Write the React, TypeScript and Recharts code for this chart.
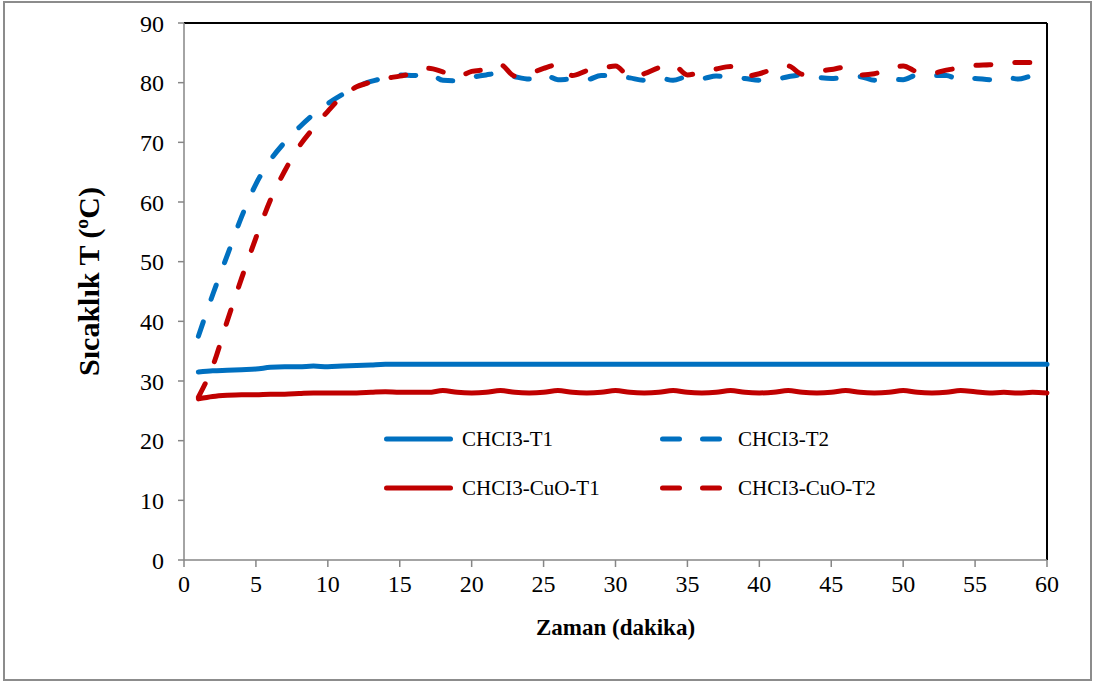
import React from 'react';
import { LineChart, Line, XAxis, YAxis, ReferenceLine } from 'recharts';

const minutes = [
  1, 2, 3, 4, 5, 6, 7, 8, 9, 10, 11, 12, 13, 14, 15, 16, 17, 18, 19, 20,
  21, 22, 23, 24, 25, 26, 27, 28, 29, 30, 31, 32, 33, 34, 35, 36, 37, 38, 39, 40,
  41, 42, 43, 44, 45, 46, 47, 48, 49, 50, 51, 52, 53, 54, 55, 56, 57, 58, 59, 60,
];

const chcl3T1 = [
  31.5, 31.7, 31.8, 31.9, 32.0, 32.3, 32.4, 32.4, 32.5, 32.4, 32.5, 32.6, 32.7, 32.8, 32.8, 32.8, 32.8, 32.8, 32.8, 32.8,
  32.8, 32.8, 32.8, 32.8, 32.8, 32.8, 32.8, 32.8, 32.8, 32.8, 32.8, 32.8, 32.8, 32.8, 32.8, 32.8, 32.8, 32.8, 32.8, 32.8,
  32.8, 32.8, 32.8, 32.8, 32.8, 32.8, 32.8, 32.8, 32.8, 32.8, 32.8, 32.8, 32.8, 32.8, 32.8, 32.8, 32.8, 32.8, 32.8, 32.8,
];

const chcl3T2 = [
  37.5, 44.5, 51.0, 57.5, 63.0, 67.0, 70.0, 72.5, 74.7, 76.5, 78.0, 79.3, 80.2, 80.8, 81.3, 81.2, 81.6, 80.4, 80.3, 80.9,
  81.3, 81.6, 81.0, 80.6, 81.4, 80.5, 80.6, 80.5, 81.2, 81.2, 80.8, 80.4, 80.8, 80.4, 81.0, 80.7, 81.1, 80.9, 80.7, 80.4,
  80.5, 81.0, 81.3, 80.9, 80.7, 80.9, 81.0, 80.4, 80.6, 80.5, 81.3, 81.2, 81.2, 80.4, 80.7, 80.5, 81.0, 80.6, 81.1, 80.9,
];

const cuoT1 = [
  27.0, 27.4, 27.6, 27.7, 27.7, 27.8, 27.8, 27.9, 28.0, 28.0, 28.0, 28.0, 28.1, 28.2, 28.1, 28.1, 28.1, 28.4, 28.1, 28.0,
  28.1, 28.4, 28.1, 28.0, 28.1, 28.4, 28.1, 28.0, 28.1, 28.4, 28.1, 28.0, 28.1, 28.4, 28.1, 28.0, 28.1, 28.4, 28.1, 28.0,
  28.1, 28.4, 28.1, 28.0, 28.1, 28.4, 28.1, 28.0, 28.1, 28.4, 28.1, 28.0, 28.1, 28.4, 28.2, 28.0, 28.1, 28.0, 28.1, 28.0,
];

const cuoT2 = [
  27.3, 32.5, 40.0, 47.2, 54.0, 60.3, 65.2, 69.3, 72.4, 75.2, 77.7, 79.3, 80.1, 80.7, 81.1, 81.6, 82.4, 81.8, 81.0, 81.9,
  82.2, 83.0, 81.1, 81.5, 82.4, 83.0, 81.2, 82.0, 82.4, 82.8, 81.0, 81.5, 82.5, 83.0, 81.3, 81.8, 82.3, 82.7, 81.1, 81.5,
  82.3, 82.8, 81.4, 81.9, 82.2, 82.6, 81.3, 81.5, 82.3, 82.8, 81.8, 81.6, 82.1, 82.5, 82.9, 83.0, 83.2, 83.4, 83.4, 83.2,
];

const xTicks = [0, 5, 10, 15, 20, 25, 30, 35, 40, 45, 50, 55, 60];
const yTicks = [0, 10, 20, 30, 40, 50, 60, 70, 80, 90];

const data = minutes.map((m, i) => ({
  minute: m,
  t1: chcl3T1[i],
  t2: chcl3T2[i],
  cuoT1: cuoT1[i],
  cuoT2: cuoT2[i],
}));

const BLUE = '#0070C0';
const RED = '#C00000';
const AXIS = '#868686';
const FONT = '"Liberation Serif", "Times New Roman", serif';

// legend order follows the reference: two columns, solid left, dashed right
const legendItems = [
  { name: 'CHCI3-T1', color: BLUE, dashed: false },
  { name: 'CHCI3-T2', color: BLUE, dashed: true },
  { name: 'CHCI3-CuO-T1', color: RED, dashed: false },
  { name: 'CHCI3-CuO-T2', color: RED, dashed: true },
];

// drawn outside the chart so recharts doesn't shrink the plot for it
const ChartLegend = () => (
  <div
    style={{
      position: 'absolute',
      left: 384,
      top: 425,
      display: 'grid',
      gridTemplateColumns: '276px 276px',
      gridAutoRows: '49px',
      fontFamily: FONT,
      fontSize: 21,
      color: '#000',
    }}
  >
    {legendItems.map((item) => (
      <div key={item.name} style={{ display: 'flex', alignItems: 'center', height: 28 }}>
        <svg width={78} height={10} style={{ flex: 'none' }}>
          {item.dashed ? (
            <line x1={2.5} y1={5} x2={59.5} y2={5} stroke={item.color} strokeWidth={5}
              strokeLinecap="round" strokeDasharray="17 23" />
          ) : (
            <line x1={2.5} y1={5} x2={66.5} y2={5} stroke={item.color} strokeWidth={5}
              strokeLinecap="round" />
          )}
        </svg>
        <span style={{ whiteSpace: 'nowrap' }}>{item.name}</span>
      </div>
    ))}
  </div>
);

const YTitle = (props: any) => {
  const { viewBox } = props;
  const cx = viewBox.x + 4;
  const cy = viewBox.y + viewBox.height / 2 - 10;
  return (
    <text x={cx} y={cy} transform={`rotate(-90 ${cx} ${cy})`} textAnchor="middle"
      dominantBaseline="central" fontFamily={FONT} fontSize={30} fontWeight="bold" fill="#000">
      Sıcaklık T (ºC)
    </text>
  );
};

const App: React.FC = () => {
  return (
    <div style={{ position: 'absolute', left: 0, top: 0, width: 1095, height: 684, background: '#fff' }}>
      <div
        style={{
          position: 'absolute', left: 3, top: 1, width: 1089, height: 680,
          border: '2px solid #8c8c8c', boxSizing: 'border-box',
        }}
      />
      <div style={{ position: 'absolute', left: 0, top: 0 }}>
        <LineChart
          width={1095}
          height={684}
          data={data}
          margin={{ top: 23, right: 48, left: 84, bottom: 44 }}
        >
          <XAxis
            dataKey="minute"
            type="number"
            domain={[0, 60]}
            ticks={xTicks}
            height={80}
            interval={0}
            tickSize={7}
            tickMargin={8}
            axisLine={{ stroke: AXIS, strokeWidth: 1.5 }}
            tickLine={{ stroke: AXIS, strokeWidth: 1.5 }}
            tick={{ fill: '#000', fontSize: 24, fontFamily: FONT }}
            label={{
              value: 'Zaman (dakika)',
              position: 'insideBottom',
              offset: 5,
              fill: '#000',
              fontSize: 23,
              fontWeight: 'bold',
              fontFamily: FONT,
            }}
          />
          <YAxis
            type="number"
            domain={[0, 90]}
            ticks={yTicks}
            width={100}
            interval={0}
            tickSize={6}
            tickMargin={14}
            axisLine={{ stroke: AXIS, strokeWidth: 1.5 }}
            tickLine={{ stroke: AXIS, strokeWidth: 1.5 }}
            tick={{ fill: '#000', fontSize: 24, fontFamily: FONT }}
            label={<YTitle />}
          />
          <ReferenceLine y={90} stroke="#000" strokeWidth={2} />
          <ReferenceLine x={60} stroke="#000" strokeWidth={2} />
          <Line type="monotone" dataKey="t1" name="CHCI3-T1" stroke={BLUE} strokeWidth={5}
            dot={false} isAnimationActive={false} strokeLinecap="round" />
          <Line type="monotone" dataKey="t2" name="CHCI3-T2" stroke={BLUE} strokeWidth={5}
            strokeDasharray="15 24" strokeLinecap="round" dot={false} isAnimationActive={false} />
          <Line type="monotone" dataKey="cuoT1" name="CHCI3-CuO-T1" stroke={RED} strokeWidth={5}
            dot={false} isAnimationActive={false} strokeLinecap="round" />
          <Line type="monotone" dataKey="cuoT2" name="CHCI3-CuO-T2" stroke={RED} strokeWidth={5}
            strokeDasharray="15 24" strokeLinecap="round" dot={false} isAnimationActive={false} />
        </LineChart>
      </div>
      <ChartLegend />
    </div>
  );
};

export default App;
